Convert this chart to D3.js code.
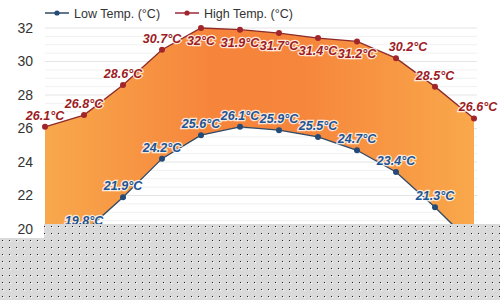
<!DOCTYPE html>
<html>
<head>
<meta charset="utf-8">
<script src="https://cdn.jsdelivr.net/npm/d3@7"></script>
<style>
body { margin: 0; background: #fff; }
svg { display: block; font-family: "Liberation Sans", Arial, sans-serif; }
</style>
</head>
<body>
<svg id="chart" width="500" height="300"></svg>
<script>
// monthly temps (Jan / Dec low are hidden, estimated)
const months = ["Jan", "Feb", "Mar", "Apr", "May", "Jun", "Jul", "Aug", "Sep", "Oct", "Nov", "Dec"];
const highTemp = [26.1, 26.8, 28.6, 30.7, 32, 31.9, 31.7, 31.4, 31.2, 30.2, 28.5, 26.6];
const lowTemp = [19.1, 19.8, 21.9, 24.2, 25.6, 26.1, 25.9, 25.5, 24.7, 23.4, 21.3, 19.0];
const yTicks = [20, 22, 24, 26, 28, 30, 32];
const seriesNames = ["Low Temp. (°C)", "High Temp. (°C)"];

const svg = d3.select('#chart');

const x = d3.scalePoint().domain(months).range([45, 474]);
const y = d3.scaleLinear().domain([20, 32]).range([229, 28]);

const data = months.map((m, i) => ({m: m, hi: highTemp[i], lo: lowTemp[i]}));

// grid
const minor = d3.range(20, 32.01, 0.5);
svg.append('g').selectAll('line').data(minor).join('line')
    .attr('x1', 45).attr('x2', 477)
    .attr('y1', d => y(d)).attr('y2', d => y(d))
    .attr('stroke', d => d % 2 == 0 ? '#e4e4e4' : '#f1f1f1')
    .attr('stroke-width', 1);

// y axis labels
const yAxis = d3.axisLeft(y).tickValues(yTicks).tickSize(0).tickPadding(0);
svg.append('g').attr('transform', 'translate(33,0)').call(yAxis)
    .call(g => g.select('.domain').remove())
    .selectAll('text')
    .attr('font-size', 14).attr('fill', '#333')
    .attr('font-family', '"Liberation Sans", Arial, sans-serif');

// orange band between low and high
const defs = svg.append('defs');
const grad = defs.append('linearGradient').attr('id', 'band')
    .attr('x1', '0%').attr('x2', '100%').attr('y1', '0%').attr('y2', '0%');
grad.append('stop').attr('offset', '0%').attr('stop-color', '#f8a84c');
grad.append('stop').attr('offset', '40%').attr('stop-color', '#f6843b');
grad.append('stop').attr('offset', '60%').attr('stop-color', '#f6863c');
grad.append('stop').attr('offset', '100%').attr('stop-color', '#f9a84b');

const area = d3.area()
    .x(d => x(d.m))
    .y0(d => y(d.lo))
    .y1(d => y(d.hi));
svg.append('path').datum(data)
    .attr('d', area)
    .attr('fill', 'url(#band)');

const hiLine = d3.line().x(d => x(d.m)).y(d => y(d.hi));
const loLine = d3.line().x(d => x(d.m)).y(d => y(d.lo));

svg.append('path').datum(data).attr('d', hiLine)
    .attr('fill', 'none').attr('stroke', '#8e2a2a').attr('stroke-width', 1.3);
svg.append('path').datum(data).attr('d', loLine)
    .attr('fill', 'none').attr('stroke', '#2f4a66').attr('stroke-width', 1.3);

svg.append('g').selectAll('circle').data(data).join('circle')
    .attr('cx', d => x(d.m)).attr('cy', d => y(d.hi)).attr('r', 3)
    .attr('fill', '#a1262b');
svg.append('g').selectAll('circle').data(data.filter(d => d.lo >= 19.5)).join('circle')
    .attr('cx', d => x(d.m)).attr('cy', d => y(d.lo)).attr('r', 3)
    .attr('fill', '#244a78');

// value labels with white halo, only for points inside the plot
function labels(key, color, below) {
    svg.append('g').selectAll('text').data(data.filter(d => d[key] >= 19.5)).join('text')
        .attr('x', d => x(d.m) + (key == 'hi' && d.m == 'Dec' ? 4 : 0) + (key == 'hi' && d.m == 'Oct' ? 12 : 0))
        .attr('y', d => below(d) ? y(d[key]) + 17 : y(d[key]) - 7)
        .attr('text-anchor', 'middle')
        .attr('font-size', 12.5).attr('font-weight', 'bold').attr('font-style', 'italic')
        .attr('fill', color)
        .attr('stroke', '#fff').attr('stroke-width', 2.5).attr('stroke-opacity', 0.8)
        .attr('paint-order', 'stroke')
        .text(d => d[key] + '°C');
}
labels('hi', '#9c1c24', d => d.hi > 31);
labels('lo', '#1c5596', d => false);

// legend
const legend = [
    {name: seriesNames[0], line: '#2f4a66', dot: '#244a78', x: 45},
    {name: seriesNames[1], line: '#a0283a', dot: '#a1262b', x: 175}
];
const lg = svg.append('g').selectAll('g').data(legend).join('g')
    .attr('transform', d => 'translate(' + d.x + ',13)');
lg.append('line').attr('x1', 0).attr('x2', 24)
    .attr('stroke', d => d.line).attr('stroke-width', 1.5);
lg.append('circle').attr('cx', 12).attr('r', 2.6).attr('fill', d => d.dot);
lg.append('text').attr('x', 29).attr('y', 5)
    .attr('font-size', 12.5).attr('fill', '#333').text(d => d.name);

// grey dotted block covering the bottom
const pat = defs.append('pattern').attr('id', 'dots')
    .attr('patternUnits', 'userSpaceOnUse').attr('width', 7).attr('height', 7);
pat.append('rect').attr('width', 7).attr('height', 7).attr('fill', '#dadada');
pat.append('rect').attr('x', 2).attr('y', 2).attr('width', 1).attr('height', 1).attr('fill', '#222');
pat.append('rect').attr('x', 3).attr('y', 3).attr('width', 1).attr('height', 1).attr('fill', '#fff');
svg.append('rect').attr('x', 44).attr('y', 224).attr('width', 456).attr('height', 76).attr('fill', 'url(#dots)');
svg.append('rect').attr('x', 0).attr('y', 238).attr('width', 44).attr('height', 62).attr('fill', 'url(#dots)');
</script>
</body>
</html>
